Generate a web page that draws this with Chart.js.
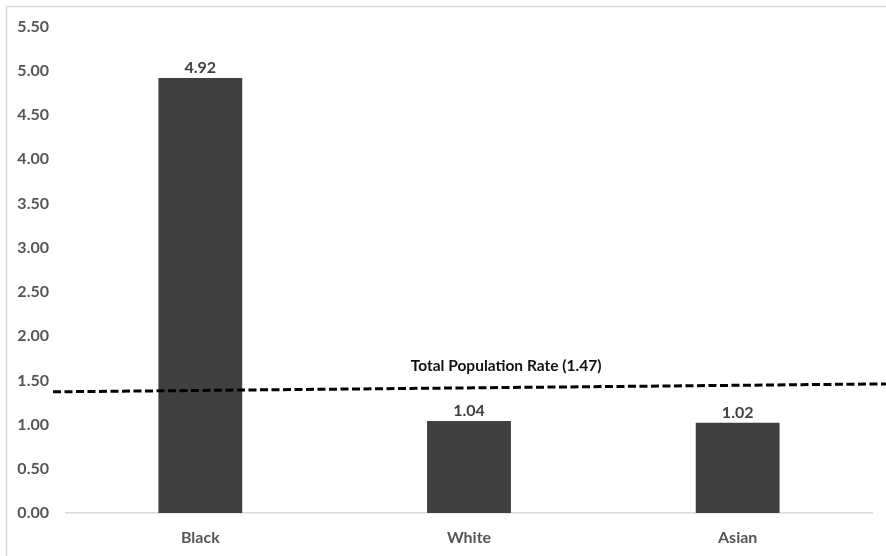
<!DOCTYPE html>
<html>
<head>
<meta charset="utf-8">
<style>
  html, body { margin: 0; padding: 0; background: #ffffff; }
  #wrap { width: 886px; height: 556px; position: relative; }
</style>
<script src="https://cdn.jsdelivr.net/npm/chart.js@4.4.1/dist/chart.umd.min.js"></script>
</head>
<body>
<div id="wrap"><canvas id="chart" width="886" height="556"></canvas></div>
<script>
// Rates by group
const categories = ['Black', 'White', 'Asian'];
const rates = [4.92, 1.04, 1.02];

// Axis ticks
const yTickValues = [0, 0.5, 1, 1.5, 2, 2.5, 3, 3.5, 4, 4.5, 5, 5.5];

// Total population reference line (left end, right end) and its stated rate
const totalRate = 1.47;
const refLine = [1.37, 1.46];
const refLabel = 'Total Population Rate (' + totalRate.toFixed(2) + ')';

const FONT = 'Lato, "Open Sans", "Liberation Sans", sans-serif';
const BAR_COLOR = '#404040';
const TEXT_GRAY = '#555555';

// Light frame around the chart
const framePlugin = {
  id: 'frame',
  beforeDraw(chart) {
    const ctx = chart.ctx;
    ctx.save();
    ctx.strokeStyle = '#d9d9d9';
    ctx.lineWidth = 1.5;
    ctx.strokeRect(6.5, 6.5, chart.width + 20, chart.height + 20);
    ctx.restore();
  }
};

// Value labels above each bar
const valueLabelPlugin = {
  id: 'valueLabels',
  afterDatasetsDraw(chart) {
    const ctx = chart.ctx;
    const meta = chart.getDatasetMeta(0);
    ctx.save();
    ctx.font = 'bold 16px ' + FONT;
    ctx.fillStyle = BAR_COLOR;
    ctx.textAlign = 'center';
    ctx.textBaseline = 'bottom';
    meta.data.forEach((bar, i) => {
      ctx.fillText(rates[i].toFixed(2), bar.x, bar.y - 2);
    });
    ctx.restore();
  }
};

// Dashed total-population line with its caption
const refLinePlugin = {
  id: 'refLine',
  afterDatasetsDraw(chart) {
    const ctx = chart.ctx;
    const y = chart.scales.y;
    const area = chart.chartArea;
    const x0 = area.left - 13;
    const x1 = chart.width;
    const y0 = y.getPixelForValue(refLine[0]);
    const y1 = y.getPixelForValue(refLine[1]);
    ctx.save();
    ctx.strokeStyle = '#000000';
    ctx.lineWidth = 3;
    ctx.setLineDash([8, 3.5]);
    ctx.beginPath();
    ctx.moveTo(x0, y0);
    ctx.lineTo(x1, y1);
    ctx.stroke();
    ctx.setLineDash([]);
    const lx = area.left + (area.right - area.left) * 0.546;
    const ly = y0 + (y1 - y0) * (lx - x0) / (x1 - x0);
    ctx.font = 'bold 15.5px ' + FONT;
    ctx.fillStyle = '#111111';
    ctx.textAlign = 'center';
    ctx.textBaseline = 'middle';
    ctx.fillText(refLabel, lx, ly - 22);
    ctx.restore();
  }
};

new Chart(document.getElementById('chart'), {
  type: 'bar',
  data: {
    labels: categories,
    datasets: [{
      data: rates,
      backgroundColor: BAR_COLOR,
      borderWidth: 0,
      categoryPercentage: 1,
      barPercentage: 0.312
    }]
  },
  options: {
    responsive: false,
    animation: false,
    events: [],
    layout: { padding: { left: 0, right: 14, top: 25, bottom: 0 } },
    plugins: {
      legend: { display: false },
      tooltip: { enabled: false },
      title: { display: false }
    },
    scales: {
      x: {
        grid: { display: false, drawTicks: false },
        border: { display: true, color: '#d9d9d9', width: 1.5 },
        ticks: {
          padding: 15,
          color: TEXT_GRAY,
          font: { family: FONT, size: 16, weight: 'bold' }
        },
        afterFit(scale) { scale.height = 43; }
      },
      y: {
        min: 0,
        max: 5.5,
        grid: { display: false, drawTicks: false },
        border: { display: false },
        afterBuildTicks(scale) {
          scale.ticks = yTickValues.map(v => ({ value: v }));
        },
        ticks: {
          padding: 17,
          color: TEXT_GRAY,
          font: { family: FONT, size: 16, weight: 'bold' },
          callback: v => Number(v).toFixed(2)
        },
        afterFit(scale) { scale.width = 66; }
      }
    }
  },
  plugins: [framePlugin, valueLabelPlugin, refLinePlugin]
});
</script>
</body>
</html>
